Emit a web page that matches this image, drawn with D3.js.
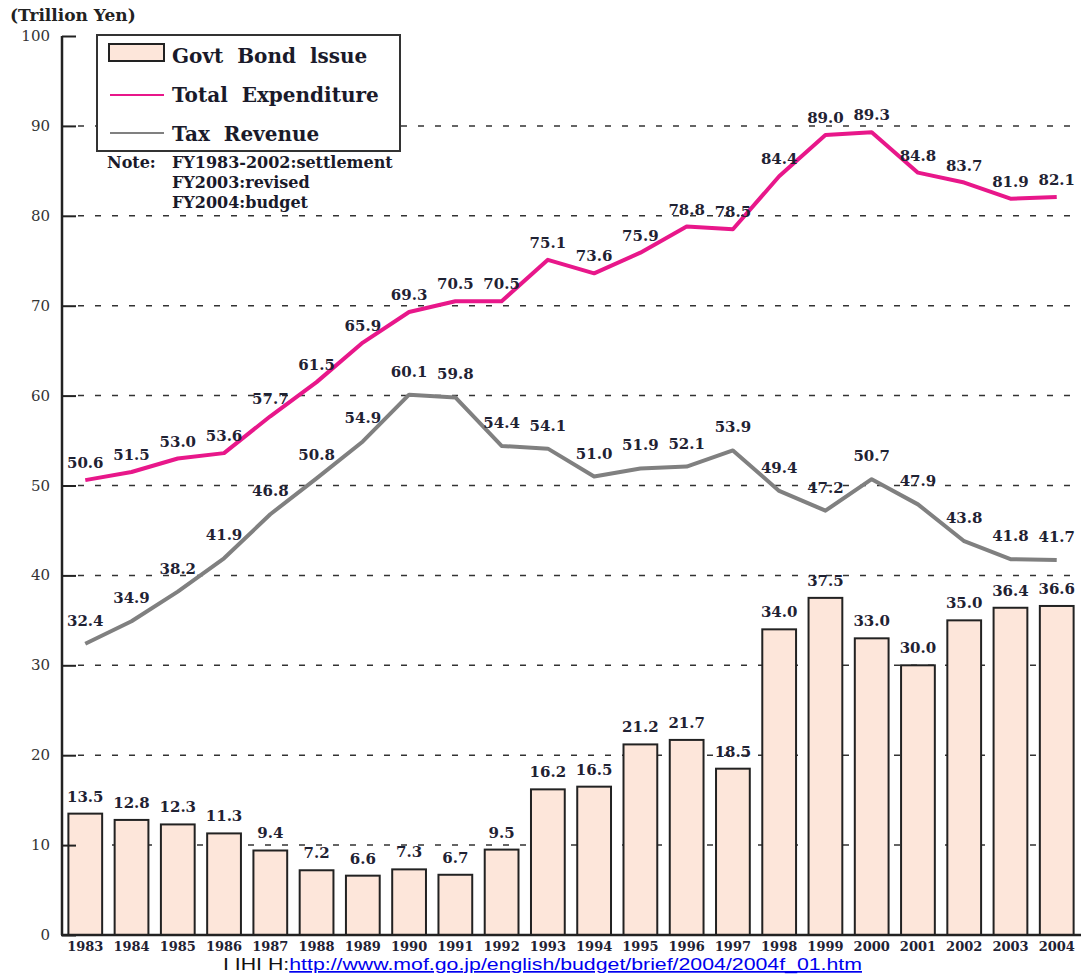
<!DOCTYPE html>
<html>
<head>
<meta charset="utf-8">
<script src="https://cdn.jsdelivr.net/npm/d3@7"></script>
<style>
  body { margin: 0; background: #fff; }
  svg { display: block; }
</style>
</head>
<body>
<div id="chart"></div>
<script>
const years = ["1983","1984","1985","1986","1987","1988","1989","1990","1991","1992","1993",
               "1994","1995","1996","1997","1998","1999","2000","2001","2002","2003","2004"];
const bondIssue = [13.5,12.8,12.3,11.3,9.4,7.2,6.6,7.3,6.7,9.5,16.2,16.5,21.2,21.7,18.5,34.0,37.5,33.0,30.0,35.0,36.4,36.6];
const totalExpenditure = [50.6,51.5,53.0,53.6,57.7,61.5,65.9,69.3,70.5,70.5,75.1,73.6,75.9,78.8,78.5,84.4,89.0,89.3,84.8,83.7,81.9,82.1];
const taxRevenue = [32.4,34.9,38.2,41.9,46.8,50.8,54.9,60.1,59.8,54.4,54.1,51.0,51.9,52.1,53.9,49.4,47.2,50.7,47.9,43.8,41.8,41.7];
const yTicks = [0,10,20,30,40,50,60,70,80,90,100];
const legendItems = ["Govt  Bond  lssue", "Total  Expenditure", "Tax  Revenue"];
const noteLines = ["FY1983-2002:settlement", "FY2003:revised", "FY2004:budget"];

const W = 1083, H = 974;
const serif = "'DejaVu Serif', serif";
const pink = "#e8178a", grey = "#808080", labelCol = "#1f2233";

const svg = d3.select("#chart").append("svg")
    .attr("width", W).attr("height", H);

const x = d3.scaleBand().domain(years).range([62, 1080])
    .paddingInner(0.27).paddingOuter(0.138);
const y = d3.scaleLinear().domain([0, 100]).range([935, 36]);
const cx = (d) => x(d) + x.bandwidth() / 2;

// dashed grid
svg.append("g").selectAll("line")
    .data(yTicks.filter(t => t > 0 && t < 100))
    .join("line")
    .attr("x1", 78).attr("x2", 1076)
    .attr("y1", d => y(d)).attr("y2", d => y(d))
    .attr("stroke", "#333").attr("stroke-width", 1.5)
    .attr("stroke-dasharray", "6,11");

// bars
svg.append("g").selectAll("rect")
    .data(years)
    .join("rect")
    .attr("x", d => x(d))
    .attr("y", (d, i) => y(bondIssue[i]))
    .attr("width", x.bandwidth())
    .attr("height", (d, i) => y(0) - y(bondIssue[i]))
    .attr("fill", "#fde6da")
    .attr("stroke", "#222").attr("stroke-width", 2);

svg.append("g").selectAll("text")
    .data(years)
    .join("text")
    .attr("x", d => cx(d))
    .attr("y", (d, i) => y(bondIssue[i]) - 12)
    .attr("text-anchor", "middle")
    .style("font", `bold 15px ${serif}`).attr("fill", labelCol)
    .text((d, i) => bondIssue[i].toFixed(1));

// lines
const line = d3.line().x(d => cx(d[0])).y(d => y(d[1]));
[[totalExpenditure, pink, 12], [taxRevenue, grey, 18]].forEach(([vals, col, off]) => {
    svg.append("path")
        .datum(years.map((yr, i) => [yr, vals[i]]))
        .attr("d", line)
        .attr("fill", "none").attr("stroke", col)
        .attr("stroke-width", 4).attr("stroke-linejoin", "round");
    svg.append("g").selectAll("text")
        .data(years)
        .join("text")
        .attr("x", d => cx(d))
        .attr("y", (d, i) => y(vals[i]) - off)
        .attr("text-anchor", "middle")
        .style("font", `bold 15px ${serif}`).attr("fill", labelCol)
        .text((d, i) => vals[i].toFixed(1));
});

// axes
const yAxis = svg.append("g").attr("transform", "translate(62,0)")
    .call(d3.axisRight(y).tickValues(yTicks).tickSize(14).tickFormat(""));
yAxis.select(".domain").attr("d", `M0,${y(100)}V${y(0)}`)
    .attr("stroke", "#222").attr("stroke-width", 2.5);
yAxis.selectAll(".tick line").attr("stroke", "#222").attr("stroke-width", 2);

svg.append("g").selectAll("text")
    .data(yTicks)
    .join("text")
    .attr("x", 50).attr("y", d => y(d) + 5)
    .attr("text-anchor", "end")
    .style("font", `15px ${serif}`).attr("fill", "#333")
    .text(d => d);

const xAxis = svg.append("g").attr("transform", `translate(0,${y(0)})`)
    .call(d3.axisBottom(x).tickSize(0).tickPadding(7));
xAxis.select(".domain").attr("d", "M61,0H1081")
    .attr("stroke", "#222").attr("stroke-width", 2.5);
xAxis.selectAll("text")
    .style("font", `bold 13px ${serif}`).attr("fill", labelCol);

// unit label
svg.append("text").attr("x", 10).attr("y", 21)
    .style("font", `bold 17px ${serif}`).attr("fill", "#222")
    .text("(Trillion Yen)");

// legend
const lg = svg.append("g");
lg.append("rect").attr("x", 97).attr("y", 35).attr("width", 303).attr("height", 116)
    .attr("fill", "#fff").attr("stroke", "#333").attr("stroke-width", 2);
lg.append("rect").attr("x", 109).attr("y", 44).attr("width", 55).attr("height", 17)
    .attr("fill", "#fde6da").attr("stroke", "#222").attr("stroke-width", 2);
lg.append("line").attr("x1", 110).attr("x2", 164).attr("y1", 95).attr("y2", 95)
    .attr("stroke", pink).attr("stroke-width", 2);
lg.append("line").attr("x1", 110).attr("x2", 164).attr("y1", 133).attr("y2", 133)
    .attr("stroke", grey).attr("stroke-width", 2);
lg.selectAll("text.item")
    .data(legendItems)
    .join("text").attr("class", "item")
    .attr("x", 172).attr("y", (d, i) => 63 + i * 39)
    .style("font", `bold 20px ${serif}`).style("white-space", "pre")
    .attr("fill", "#1a1a2a")
    .text(d => d);

svg.append("text").attr("x", 107).attr("y", 168)
    .style("font", `bold 16px ${serif}`).attr("fill", "#1a1a2a")
    .text("Note:");
svg.selectAll("text.note")
    .data(noteLines)
    .join("text").attr("class", "note")
    .attr("x", 172).attr("y", (d, i) => 168 + i * 20)
    .style("font", `bold 16px ${serif}`).attr("fill", "#1a1a2a")
    .text(d => d);

// source
const src = svg.append("text").attr("x", 223).attr("y", 970)
    .attr("textLength", 639).attr("lengthAdjust", "spacingAndGlyphs")
    .style("font", "17px 'Liberation Sans', Arial, sans-serif");
src.append("tspan").attr("fill", "#111").text("I IHI H:");
src.append("tspan").attr("fill", "#0000ee").attr("text-decoration", "underline")
    .text("http://www.mof.go.jp/english/budget/brief/2004/2004f_01.htm");
</script>
</body>
</html>
